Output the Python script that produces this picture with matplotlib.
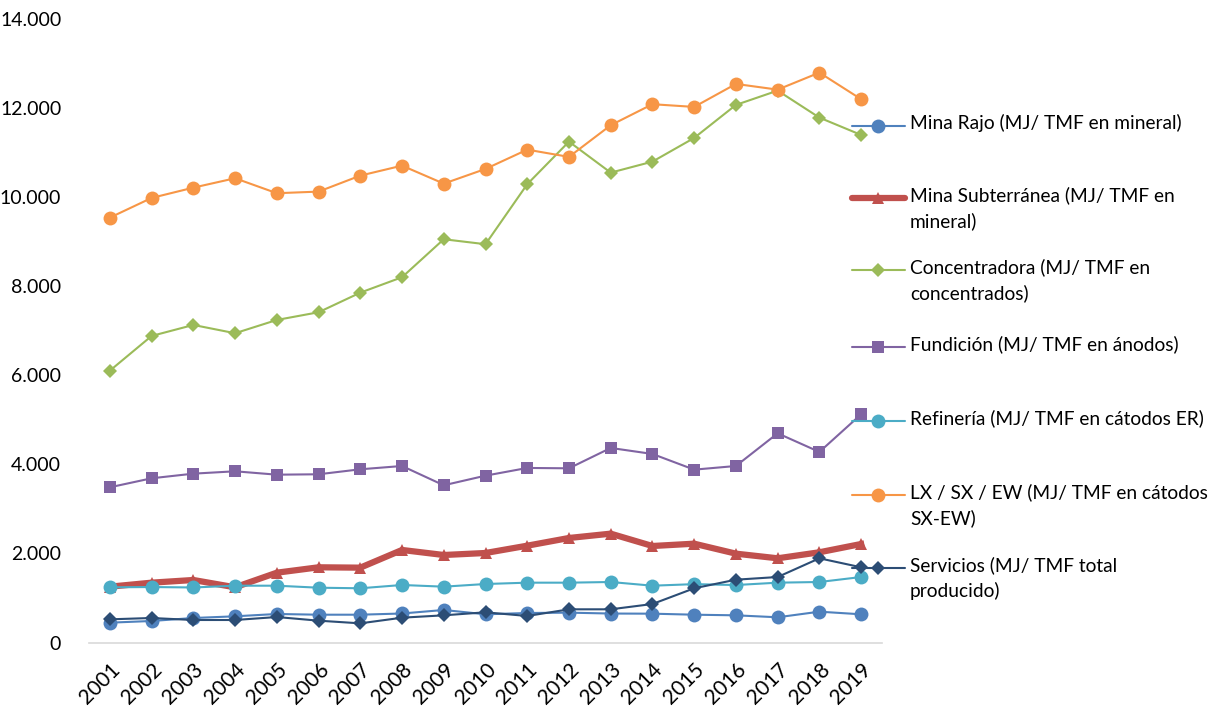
import matplotlib.pyplot as plt
from matplotlib.lines import Line2D
from matplotlib.ticker import FuncFormatter, MultipleLocator

plt.rcParams['font.family'] = ['Lato', 'DejaVu Sans']

years = list(range(2001, 2020))

mina_rajo = [445, 483, 550, 588, 640, 624, 624, 651, 730, 633, 662, 670, 650, 647, 624, 610, 566, 692, 633]
mina_sub = [1253, 1343, 1403, 1239, 1567, 1688, 1680, 2077, 1964, 2009, 2173, 2346, 2443, 2166, 2218, 1994, 1890, 2025, 2211]
concentradora = [6102, 6881, 7128, 6942, 7240, 7413, 7853, 8199, 9052, 8940, 10287, 11243, 10547, 10794, 11326, 12067, 12388, 11782, 11393]
fundicion = [3484, 3686, 3790, 3843, 3767, 3776, 3888, 3962, 3529, 3745, 3918, 3910, 4367, 4232, 3880, 3962, 4696, 4277, 5123]
refineria = [1239, 1245, 1235, 1275, 1275, 1230, 1217, 1291, 1253, 1313, 1343, 1343, 1358, 1275, 1310, 1290, 1343, 1358, 1470]
lx_sx_ew = [9537, 9979, 10210, 10421, 10085, 10121, 10480, 10704, 10300, 10630, 11063, 10900, 11611, 12083, 12022, 12538, 12410, 12792, 12195]
servicios = [520, 550, 505, 505, 572, 490, 430, 557, 610, 678, 595, 745, 745, 864, 1217, 1410, 1470, 1890, 1688]

labels = ['Mina Rajo (MJ/ TMF en mineral)',
          'Mina Subterránea (MJ/ TMF en\nmineral)',
          'Concentradora (MJ/ TMF en\nconcentrados)',
          'Fundición (MJ/ TMF en ánodos)',
          'Refinería (MJ/ TMF en cátodos ER)',
          'LX / SX / EW (MJ/ TMF en cátodos\nSX-EW)',
          'Servicios (MJ/ TMF total\nproducido)']

series = [mina_rajo, mina_sub, concentradora, fundicion, refineria, lx_sx_ew, servicios]
colors = ['#4F81BD', '#C0504D', '#9BBB59', '#8064A2', '#4BACC6', '#F79646', '#2C4D75']
markers = ['o', '^', 'D', 's', 'o', 'o', 'D']
msizes = [10, 9, 7, 9, 10, 10, 7]
lwidths = [1.5, 4.5, 1.5, 1.5, 1.5, 1.5, 1.5]

fig = plt.figure(figsize=(12.17, 7.11), dpi=100)
ax = fig.add_axes([89 / 1217, (711 - 642.5) / 711, (882 - 89) / 1217, (642.5 - 18.8) / 711])

for vals, c, m, ms, lw in zip(series, colors, markers, msizes, lwidths):
    ax.plot(years, vals, color=c, marker=m, markersize=ms, linewidth=lw, markeredgewidth=0)

ax.set_xlim(2000.5, 2019.5)
ax.set_ylim(0, 14000)
ax.yaxis.set_major_locator(MultipleLocator(2000))
ax.yaxis.set_major_formatter(FuncFormatter(lambda v, p: f"{int(v):,}".replace(",", ".")))
ax.set_xticks(years)
ax.set_xticklabels([str(y) for y in years], rotation=45, ha='right', rotation_mode='anchor')
ax.tick_params(axis='y', length=0, labelsize=14, pad=20)
ax.tick_params(axis='x', length=0, labelsize=15, pad=12)
for s in ['top', 'right', 'left']:
    ax.spines[s].set_visible(False)
ax.spines['bottom'].set_color('#D9D9D9')
ax.spines['bottom'].set_linewidth(1.2)
ax.set_zorder(1)
ax.patch.set_visible(False)

# legend drawn by hand (Excel style, handle aligned with first line)
leg_y = [126, 198, 270, 347, 421, 495, 568]
for yp, lab, c, m, ms, lw in zip(leg_y, labels, colors, markers, msizes, lwidths):
    yf = 1 - yp / 711
    fig.add_artist(Line2D([852 / 1217, 905 / 1217], [yf, yf], transform=fig.transFigure,
                          color=c, linewidth=lw, solid_capstyle='round'))
    fig.add_artist(Line2D([878 / 1217], [yf], transform=fig.transFigure, color=c,
                          marker=m, markersize=ms, markeredgewidth=0))
    fig.text(910 / 1217, yf + 12 / 711, lab, fontsize=13.8, va='top', ha='left',
             linespacing=1.55)

fig.savefig('out.png', dpi=100)
